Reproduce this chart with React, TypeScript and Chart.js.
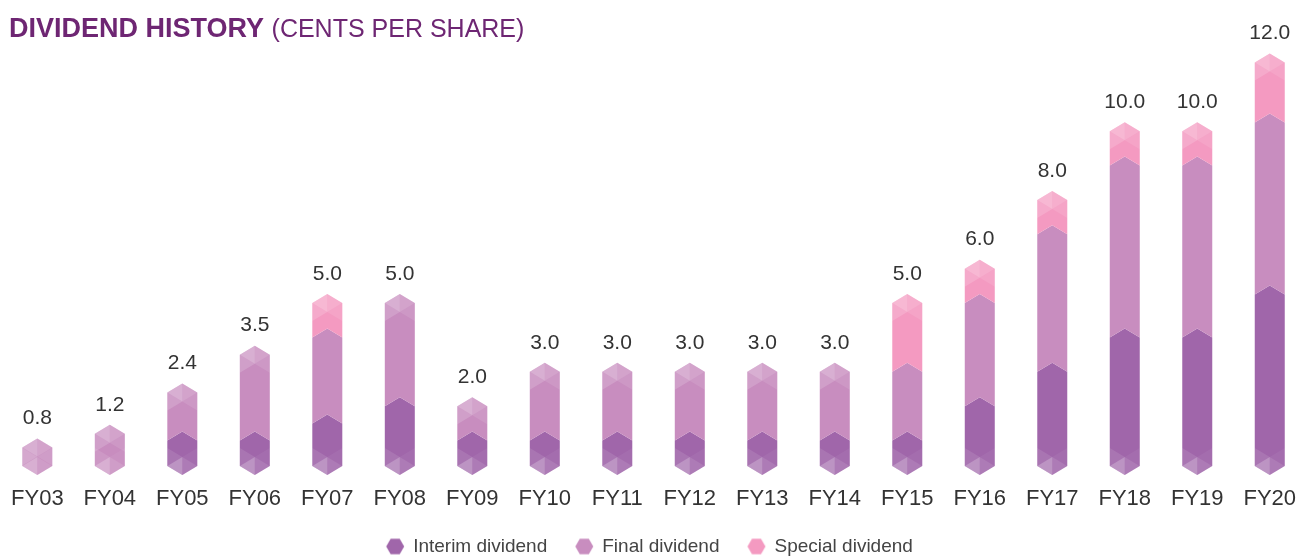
import React, { useEffect, useRef } from 'react';
import { Chart, registerables } from 'chart.js';

Chart.register(...registerables);

// ---- data ----
const categories = ['FY03', 'FY04', 'FY05', 'FY06', 'FY07', 'FY08', 'FY09', 'FY10', 'FY11', 'FY12', 'FY13', 'FY14', 'FY15', 'FY16', 'FY17', 'FY18', 'FY19', 'FY20'];
const interimDividend = [0, 0, 1.0, 1.0, 1.5, 2.0, 1.0, 1.0, 1.0, 1.0, 1.0, 1.0, 1.0, 2.0, 3.0, 4.0, 4.0, 5.25];
const finalDividend = [0.8, 1.2, 1.4, 2.5, 2.5, 3.0, 1.0, 2.0, 2.0, 2.0, 2.0, 2.0, 2.0, 3.0, 4.0, 5.0, 5.0, 5.0];
const specialDividend = [0, 0, 0, 0, 1.0, 0, 0, 0, 0, 0, 0, 0, 2.0, 1.0, 1.0, 1.0, 1.0, 1.75];
const seriesNames = ['Interim dividend', 'Final dividend', 'Special dividend'];
const seriesColors = ['#A066AA', '#C88DBF', '#F49AC1'];
const totalLabels = categories.map((_, i) => (interimDividend[i] + finalDividend[i] + specialDividend[i]).toFixed(1));

const FONT = "'Liberation Sans', Arial, sans-serif";
const CAP = 9; // hexagon cap height
const LEG_PAD = 10;
const LEG_BOX = 45.5 - LEG_PAD;
const LEG_SHIFT = -13;

function makeHex(color: string): HTMLCanvasElement {
  const c = document.createElement('canvas');
  c.width = 60;
  c.height = 20;
  const g = c.getContext('2d')!;
  const cx = 30 + (LEG_BOX / 2 - 8.5);
  const cy = 10;
  const r = 9;
  g.beginPath();
  for (let k = 0; k < 6; k++) {
    const a = (Math.PI / 3) * k;
    const px = cx + r * Math.cos(a);
    const py = cy + r * Math.sin(a);
    if (k === 0) g.moveTo(px, py);
    else g.lineTo(px, py);
  }
  g.closePath();
  g.fillStyle = color;
  g.fill();
  return c;
}

const legendShiftPlugin = {
  id: 'legendShift',
  afterLayout(chart: any) {
    if (chart.legend) {
      chart.legend.left += LEG_SHIFT;
      chart.legend.right += LEG_SHIFT;
    }
  },
};

const hexBarPlugin = {
  id: 'hexBars',
  beforeDatasetsDraw(chart: any) {
    const ctx: CanvasRenderingContext2D = chart.ctx;
    const n = chart.data.labels.length;
    const dsCount = chart.data.datasets.length;
    const tri = (pts: number[][], a: number) => {
      ctx.beginPath();
      ctx.moveTo(pts[0][0], pts[0][1]);
      for (let k = 1; k < pts.length; k++) ctx.lineTo(pts[k][0], pts[k][1]);
      ctx.closePath();
      ctx.fillStyle = `rgba(255,255,255,${a})`;
      ctx.fill();
    };
    ctx.save();
    for (let i = 0; i < n; i++) {
      const segs: any[] = [];
      for (let d = 0; d < dsCount; d++) {
        const v = chart.data.datasets[d].data[i];
        if (!v) continue;
        const el = chart.getDatasetMeta(d).data[i];
        segs.push({ x: el.x, top: el.y, bottom: el.base, w: el.width, color: seriesColors[d] });
      }
      if (!segs.length) continue;
      const x = segs[0].x;
      const hw = segs[0].w / 2;
      const l = x - hw;
      const r = x + hw;
      const H = CAP;
      segs.forEach((s, k) => {
        ctx.beginPath();
        if (k === 0) {
          ctx.moveTo(l, s.bottom - H);
          ctx.lineTo(x, s.bottom);
          ctx.lineTo(r, s.bottom - H);
        } else {
          ctx.moveTo(l, s.bottom);
          ctx.lineTo(x, s.bottom - H);
          ctx.lineTo(r, s.bottom);
        }
        ctx.lineTo(r, s.top);
        ctx.lineTo(x, s.top - H);
        ctx.lineTo(l, s.top);
        ctx.closePath();
        ctx.fillStyle = s.color;
        ctx.fill();
      });
      const yb = segs[0].bottom;
      const yt = segs[segs.length - 1].top;
      // bottom cap facets
      tri([[x, yb], [l, yb - H], [x, yb - 2 * H]], 0.3);
      tri([[x, yb], [r, yb - H], [x, yb - 2 * H]], 0.14);
      tri([[l, yb - H], [x, yb - 2 * H], [l, yb - 3 * H]], 0.1);
      tri([[r, yb - H], [x, yb - 2 * H], [r, yb - 3 * H]], 0.05);
      // top cap facets
      tri([[x, yt - H], [l, yt], [x, yt + H]], 0.3);
      tri([[x, yt - H], [r, yt], [x, yt + H]], 0.2);
      tri([[l, yt], [x, yt + H], [l, yt + 2 * H]], 0.16);
      tri([[r, yt], [x, yt + H], [r, yt + 2 * H]], 0.1);
      // total label
      ctx.fillStyle = '#333333';
      ctx.font = `21px ${FONT}`;
      ctx.textAlign = 'center';
      ctx.textBaseline = 'middle';
      ctx.fillText(totalLabels[i], x, yt - H - 20);
    }
    ctx.restore();
    return false;
  },
};

export default function App() {
  const ref = useRef<HTMLCanvasElement>(null);
  useEffect(() => {
    document.body.style.margin = '0';
    const hexImgs = seriesColors.map((c) => makeHex(c));
    const chart = new Chart(ref.current!, {
      type: 'bar',
      data: {
        labels: categories,
        datasets: [
          { label: seriesNames[0], data: interimDividend, backgroundColor: seriesColors[0], barThickness: 30 },
          { label: seriesNames[1], data: finalDividend, backgroundColor: seriesColors[1], barThickness: 30 },
          { label: seriesNames[2], data: specialDividend, backgroundColor: seriesColors[2], barThickness: 30 },
        ],
      },
      options: {
        animation: false,
        responsive: false,
        maintainAspectRatio: false,
        layout: { padding: { top: 28, left: 1, right: 3, bottom: -8 } },
        scales: {
          x: {
            stacked: true,
            grid: { display: false, drawTicks: false },
            border: { display: false },
            ticks: { padding: 11, color: '#333333', font: { family: FONT, size: 22 }, maxRotation: 0, autoSkip: false },
            afterFit: (s: any) => {
              s.height = 52;
            },
          },
          y: { stacked: true, display: false, min: 0, max: 13 },
        },
        plugins: {
          tooltip: { enabled: false },
          legend: {
            position: 'bottom',
            labels: {
              usePointStyle: true,
              pointStyleWidth: LEG_BOX,
              padding: LEG_PAD,
              color: '#444444',
              font: { family: FONT, size: 19 },
              generateLabels: () =>
                seriesNames.map((t, i) => ({
                  text: t,
                  fillStyle: seriesColors[i],
                  strokeStyle: seriesColors[i],
                  lineWidth: 0,
                  pointStyle: hexImgs[i],
                  hidden: false,
                  datasetIndex: i,
                  fontColor: '#444444',
                })),
            },
          },
        },
      } as any,
      plugins: [hexBarPlugin, legendShiftPlugin],
    });
    return () => chart.destroy();
  }, []);

  return (
    <div style={{ position: 'relative', width: 1309, height: 558 }}>
      <canvas ref={ref} width={1309} height={558} style={{ display: 'block' }} />
      <div
        style={{
          position: 'absolute',
          left: 9,
          top: 15,
          fontFamily: FONT,
          fontSize: 27,
          lineHeight: '27px',
          color: '#6E2673',
          whiteSpace: 'nowrap',
        }}
      >
        <span style={{ fontWeight: 'bold' }}>DIVIDEND HISTORY</span>{' '}
        <span style={{ fontWeight: 'normal', fontSize: 25 }}>(CENTS PER SHARE)</span>
      </div>
    </div>
  );
}
